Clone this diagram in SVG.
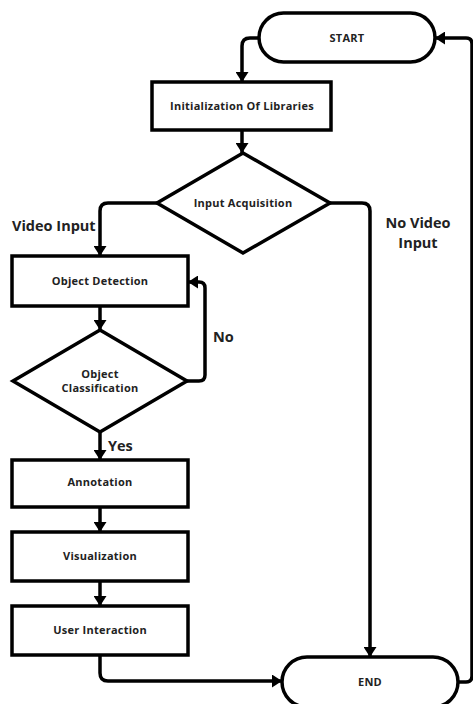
<svg xmlns="http://www.w3.org/2000/svg" width="473" height="704" viewBox="0 0 473 704">
<style>
.shape{fill:#fff;stroke:#000;stroke-width:3.5;stroke-linejoin:miter}
.conn{fill:none;stroke:#000;stroke-width:3.5;stroke-linejoin:round}
.t{font-family:"Open Sans","Liberation Sans",sans-serif;font-weight:700;font-size:11px;letter-spacing:0.25px;fill:#222;text-anchor:middle}
.lbl{font-family:"Open Sans","Liberation Sans",sans-serif;font-weight:700;font-size:14.5px;fill:#222}
</style>
<defs>
<marker id="arr" viewBox="0 0 10 13" refX="10" refY="6.5" markerWidth="10" markerHeight="13" markerUnits="userSpaceOnUse" orient="auto">
<path d="M0,0 L10,6.5 L0,13 Z" fill="#000"/>
</marker>
</defs>
<rect width="473" height="704" fill="#fff"/>
<g id="connectors">
<path class="conn" d="M259,38 H250 Q242,38 242,46 V82" marker-end="url(#arr)"/>
<path class="conn" d="M242,130 V153" marker-end="url(#arr)"/>
<path class="conn" d="M157,203 H108 Q100,203 100,211 V256" marker-end="url(#arr)"/>
<path class="conn" d="M330,203 H362 Q370,203 370,211 V657" marker-end="url(#arr)"/>
<path class="conn" d="M100,306 V330" marker-end="url(#arr)"/>
<path class="conn" d="M187,381 H199 Q205,381 205,375 V288 Q205,282 199,282 H188" marker-end="url(#arr)"/>
<path class="conn" d="M100,432 V460" marker-end="url(#arr)"/>
<path class="conn" d="M100,507 V532" marker-end="url(#arr)"/>
<path class="conn" d="M100,581 V606" marker-end="url(#arr)"/>
<path class="conn" d="M100,655 V673 Q100,681 108,681 H282" marker-end="url(#arr)"/>
<path class="conn" d="M458,682 H466 Q472,682 472,676 V44 Q472,38 466,38 H435" marker-end="url(#arr)"/>
<text class="lbl" x="12" y="231">Video Input</text>
<text class="lbl" x="418" y="228" text-anchor="middle">No Video</text>
<text class="lbl" x="418" y="248" text-anchor="middle">Input</text>
<text class="lbl" x="213" y="342">No</text>
<text class="lbl" x="108" y="451">Yes</text>
</g>
<g id="start">
<rect class="shape" x="259" y="13" width="176" height="49" rx="24.5"/>
<text class="t" x="347" y="42">START</text>
</g>
<g id="init">
<rect class="shape" x="152" y="82" width="179" height="48"/>
<text class="t" x="242" y="110">Initialization Of Libraries</text>
</g>
<g id="input-acquisition">
<polygon class="shape" points="243,153 330,203 243,253 157,203"/>
<text class="t" x="243" y="207">Input Acquisition</text>
</g>
<g id="object-detection">
<rect class="shape" x="12" y="256" width="176" height="50"/>
<text class="t" x="100" y="285">Object Detection</text>
</g>
<g id="object-classification">
<polygon class="shape" points="100,330 187,381 100,432 13,381"/>
<text class="t" x="100" y="378">Object</text>
<text class="t" x="100" y="392">Classification</text>
</g>
<g id="annotation">
<rect class="shape" x="12" y="460" width="176" height="47"/>
<text class="t" x="100" y="486">Annotation</text>
</g>
<g id="visualization">
<rect class="shape" x="12" y="532" width="176" height="49"/>
<text class="t" x="100" y="560">Visualization</text>
</g>
<g id="user-interaction">
<rect class="shape" x="12" y="606" width="176" height="49"/>
<text class="t" x="100" y="634">User Interaction</text>
</g>
<g id="end">
<rect class="shape" x="282" y="657" width="176" height="50" rx="25"/>
<text class="t" x="370" y="686">END</text>
</g>
</svg>
